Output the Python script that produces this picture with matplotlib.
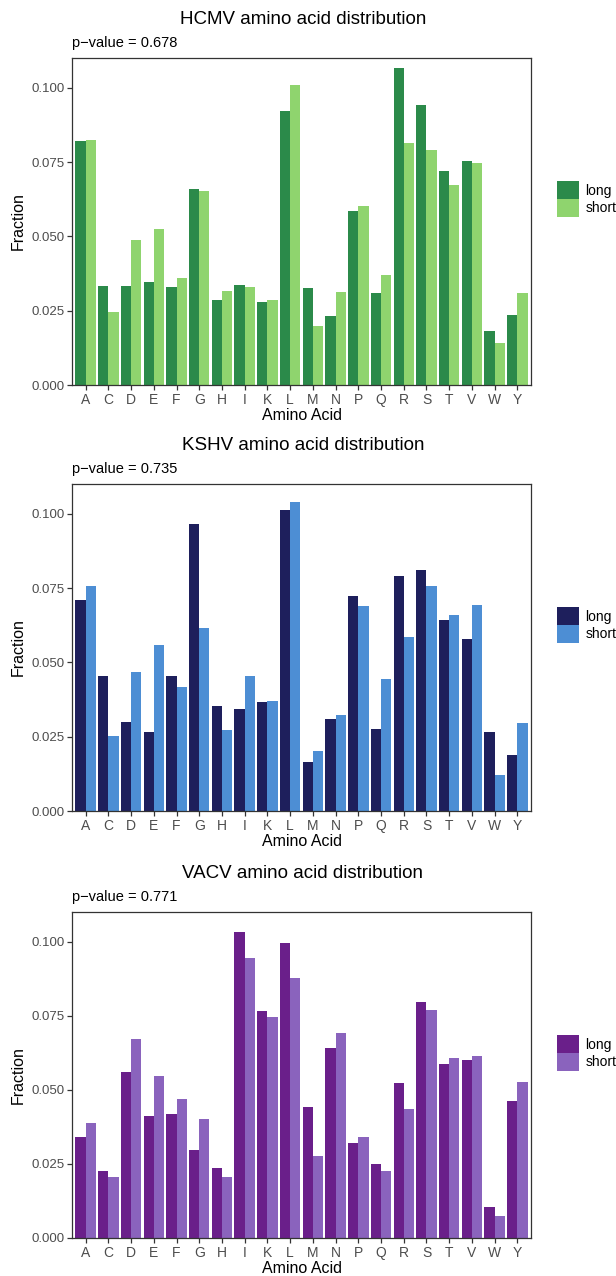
import numpy as np
import matplotlib
matplotlib.use("Agg")
import matplotlib.pyplot as plt
from matplotlib.patches import Patch

plt.rcParams['font.family'] = ['Liberation Sans', 'DejaVu Sans']

amino_acids = ["A", "C", "D", "E", "F", "G", "H", "I", "K", "L",
               "M", "N", "P", "Q", "R", "S", "T", "V", "W", "Y"]

hcmv_long = [0.0821, 0.0333, 0.0333, 0.0345, 0.0330, 0.0658, 0.0285, 0.0335, 0.0280, 0.0922,
             0.0327, 0.0231, 0.0587, 0.0310, 0.1066, 0.0943, 0.0720, 0.0754, 0.0183, 0.0235]
hcmv_short = [0.0823, 0.0245, 0.0487, 0.0526, 0.0359, 0.0653, 0.0315, 0.0330, 0.0285, 0.1009,
              0.0197, 0.0314, 0.0603, 0.0370, 0.0814, 0.0792, 0.0672, 0.0747, 0.0142, 0.0309]

kshv_long = [0.0711, 0.0454, 0.0298, 0.0265, 0.0454, 0.0967, 0.0354, 0.0343, 0.0365, 0.1011,
             0.0165, 0.0311, 0.0722, 0.0277, 0.0789, 0.0812, 0.0643, 0.0577, 0.0265, 0.0187]
kshv_short = [0.0756, 0.0251, 0.0467, 0.0558, 0.0417, 0.0614, 0.0272, 0.0454, 0.0371, 0.1038,
              0.0202, 0.0322, 0.0691, 0.0443, 0.0586, 0.0758, 0.0660, 0.0694, 0.0121, 0.0295]

vacv_long = [0.0340, 0.0227, 0.0560, 0.0412, 0.0419, 0.0297, 0.0236, 0.1034, 0.0767, 0.0996,
             0.0443, 0.0641, 0.0319, 0.0249, 0.0524, 0.0798, 0.0586, 0.0599, 0.0103, 0.0462]
vacv_short = [0.0389, 0.0205, 0.0672, 0.0548, 0.0468, 0.0400, 0.0205, 0.0944, 0.0745, 0.0876,
              0.0278, 0.0691, 0.0342, 0.0226, 0.0434, 0.0769, 0.0609, 0.0614, 0.0073, 0.0526]

panels = [
    ("HCMV amino acid distribution", "p\u2212value = 0.678", hcmv_long, hcmv_short,
     "#2b8a4a", "#8fd46e"),
    ("KSHV amino acid distribution", "p\u2212value = 0.735", kshv_long, kshv_short,
     "#1e1f5c", "#4d8ed4"),
    ("VACV amino acid distribution", "p\u2212value = 0.771", vacv_long, vacv_short,
     "#6a1f8a", "#8a63bd"),
]

W, H = 616, 1276
fig = plt.figure(figsize=(W / 100, H / 100), dpi=100)

# axes boxes in pixels: (top, bottom)
boxes = [(58, 385), (484, 811), (912, 1238)]
left_px, right_px = 72, 531

x = np.arange(1, len(amino_acids) + 1)
bw = 0.45

for (title, ptxt, long_v, short_v, c_long, c_short), (top, bot) in zip(panels, boxes):
    ax = fig.add_axes([left_px / W, 1 - bot / H, (right_px - left_px) / W, (bot - top) / H])
    ax.bar(x - bw / 2, long_v, width=bw, color=c_long, linewidth=0)
    ax.bar(x + bw / 2, short_v, width=bw, color=c_short, linewidth=0)
    ax.set_xlim(0.4, len(amino_acids) + 0.6)
    ax.set_ylim(0, 0.11)
    ax.set_yticks([0, 0.025, 0.05, 0.075, 0.1])
    ax.set_yticklabels(["0.000", "0.025", "0.050", "0.075", "0.100"])
    ax.set_xticks(x)
    ax.set_xticklabels(amino_acids)
    ax.tick_params(axis="both", labelsize=9.5, colors="#333333", length=3.5, width=0.9,
                   labelcolor="#4d4d4d", pad=2)
    ax.tick_params(axis="x", labelsize=10)
    for s in ax.spines.values():
        s.set_color("#333333")
        s.set_linewidth(0.9)
    ax.set_xlabel("Amino Acid", fontsize=11.5, labelpad=1)
    ax.set_ylabel("Fraction", fontsize=11.5, labelpad=4)

    fig.text(303 / W, 1 - (top - 38) / H, title, ha="center", va="center", fontsize=13.5)
    fig.text(left_px / W, 1 - (top - 15) / H, ptxt, ha="left", va="center", fontsize=10.5)

    handles = [Patch(facecolor=c_long, edgecolor="none"),
               Patch(facecolor=c_short, edgecolor="none")]
    fig.legend(handles, ["long", "short"], loc="center left",
               bbox_to_anchor=(557 / W, 1 - (top + 141) / H),
               frameon=False, fontsize=10, handlelength=1.55, handleheight=1.6,
               handletextpad=0.5, labelspacing=0.0, borderpad=0, borderaxespad=0)

fig.savefig("out.png", dpi=100)
